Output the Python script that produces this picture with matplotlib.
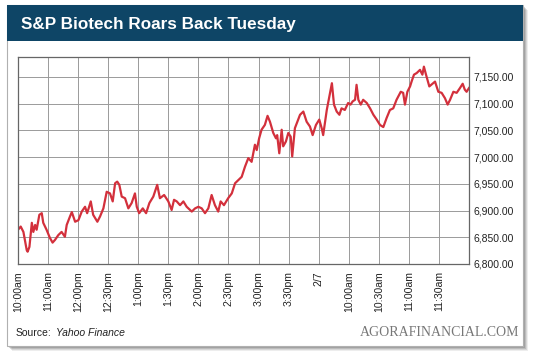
import matplotlib
matplotlib.use("Agg")
import matplotlib.pyplot as plt
from matplotlib.patches import Rectangle

# S&P Biotech index (x = tick slot, 0 = first label)
slot = [0.00, 0.09, 0.18, 0.29, 0.32, 0.38, 0.46, 0.51, 0.57, 0.62,
        0.71, 0.79, 0.84, 0.95, 1.06, 1.15, 1.23, 1.34, 1.45, 1.56,
        1.62, 1.73, 1.79, 1.90, 2.01, 2.12, 2.23, 2.30, 2.42, 2.50,
        2.64, 2.73, 2.84, 2.95, 3.06, 3.15, 3.23, 3.30, 3.37, 3.45,
        3.56, 3.67, 3.78, 3.89, 3.95, 4.03, 4.15, 4.26, 4.37, 4.50,
        4.63, 4.72, 4.86, 5.00, 5.11, 5.19, 5.28, 5.39, 5.50, 5.61,
        5.78, 5.89, 6.00, 6.11, 6.22, 6.33, 6.44, 6.55, 6.66, 6.74,
        6.85, 6.99, 7.11, 7.22, 7.33, 7.44, 7.55, 7.66, 7.77, 7.88,
        7.94, 8.02, 8.10, 8.21, 8.30, 8.38, 8.49, 8.58, 8.62, 8.69,
        8.77, 8.82, 8.91, 8.99, 9.07, 9.12, 9.21, 9.29, 9.38, 9.49,
        9.60, 9.71, 9.80, 9.91, 10.02, 10.10, 10.15, 10.27, 10.38, 10.44,
        10.51, 10.60, 10.69, 10.76, 10.87, 10.98, 11.06, 11.13, 11.21, 11.26,
        11.32, 11.40, 11.48, 11.60, 11.71, 11.82, 11.93, 12.04, 12.15, 12.26,
        12.37, 12.48, 12.59, 12.73, 12.81, 12.87, 12.95, 13.04, 13.09, 13.17,
        13.26, 13.37, 13.45, 13.50, 13.57, 13.68, 13.81, 13.87, 13.98, 14.09,
        14.20, 14.29, 14.37, 14.48, 14.59, 14.70, 14.79, 14.86, 14.92, 15.00]
price = [6864, 6870, 6860, 6826, 6823, 6832, 6877, 6860, 6873, 6864,
         6892, 6895, 6877, 6864, 6849, 6840, 6845, 6854, 6860, 6851,
         6873, 6889, 6897, 6879, 6882, 6898, 6907, 6895, 6917, 6892,
         6879, 6889, 6904, 6935, 6932, 6917, 6951, 6954, 6948, 6926,
         6923, 6904, 6914, 6932, 6907, 6895, 6904, 6895, 6914, 6926,
         6948, 6923, 6929, 6917, 6901, 6920, 6917, 6910, 6917, 6907,
         6898, 6904, 6907, 6904, 6895, 6904, 6929, 6910, 6898, 6917,
         6910, 6923, 6932, 6951, 6957, 6963, 6982, 6998, 6991, 7023,
         7013, 7035, 7051, 7060, 7077, 7066, 7045, 7035, 7041, 7007,
         7051, 7020, 7029, 7045, 7038, 7001, 7054, 7066, 7079, 7085,
         7066, 7057, 7041, 7060, 7070, 7054, 7041, 7088, 7120, 7138,
         7098, 7085, 7079, 7091, 7088, 7101, 7098, 7104, 7107, 7135,
         7107, 7098, 7107, 7101, 7091, 7079, 7070, 7060, 7056, 7073,
         7088, 7091, 7107, 7122, 7120, 7098, 7122, 7132, 7141, 7154,
         7157, 7163, 7154, 7169, 7154, 7132, 7138, 7141, 7122, 7120,
         7110, 7098, 7107, 7122, 7120, 7129, 7137, 7126, 7122, 7129]

time_labels = ["10:00am", "11:00am", "12:00pm", "12:30pm", "1:00pm", "1:30pm",
               "2:00pm", "2:30pm", "3:00pm", "3:30pm", "2/7", "10:00am",
               "10:30am", "11:00am", "11:30am"]
y_ticks = [6800, 6850, 6900, 6950, 7000, 7050, 7100, 7150]

W, H = 540, 358
fig = plt.figure(figsize=(W / 100, H / 100), dpi=100)
fig.patch.set_facecolor("white")

# fondo: card con ombra e banda del titolo, in coordinate pixel
bg = fig.add_axes([0, 0, 1, 1])
bg.set_xlim(0, W)
bg.set_ylim(H, 0)
bg.axis("off")
for off, a in [(5, 0.10), (4, 0.15), (3, 0.2), (2, 0.25)]:
    bg.add_patch(Rectangle((7 + off, 5 + off), 516, 341, color="#555555", alpha=a, lw=0))
bg.add_patch(Rectangle((7, 5), 516, 341, facecolor="white", edgecolor="#b0b0b0", lw=0.8))
bg.add_patch(Rectangle((7, 5), 516, 36, color="#0e4566", lw=0))
bg.text(21, 24, "S&P Biotech Roars Back Tuesday", color="white", fontsize=12.3,
        fontweight="bold", family="Liberation Sans", va="center", ha="left")
src = bg.text(16, 333, "Source:", fontsize=7.5, family="Liberation Sans", color="#222222",
              va="center", ha="left")
bg.annotate("Yahoo Finance", xy=(1, 0.5), xycoords=src, xytext=(3, 0),
            textcoords="offset points", fontsize=7.5, family="Liberation Sans",
            style="italic", color="#222222", va="center", ha="left")
bg.text(519, 332, "AGORAFINANCIAL.COM", fontsize=10, family="Liberation Serif",
        color="#777777", va="center", ha="right")

# grafico
ax = fig.add_axes([18 / W, 1 - 264 / H, 451 / W, 207 / H])
ax.plot(slot, price, color="#d3303c", lw=1.6, solid_joinstyle="round")
ax.set_xlim(0, 15)
ax.set_ylim(6800, 7187)
ax.set_xticks(range(len(time_labels)))
ax.set_xticklabels(time_labels, rotation=90, fontsize=7.6, family="Liberation Sans",
                   color="#222222")
ax.set_yticks(y_ticks)
ax.set_yticklabels([f"{v:,.2f}" for v in y_ticks], fontsize=7.5, family="Liberation Sans",
                   color="#222222")
ax.yaxis.tick_right()
ax.tick_params(axis="y", length=0, pad=3)
ax.tick_params(axis="x", length=0, pad=5)
ax.grid(True, color="#9a9a9a", lw=0.7)
for s in ax.spines.values():
    s.set_color("#666666")
    s.set_linewidth(0.9)

fig.savefig("out.png", dpi=100)
